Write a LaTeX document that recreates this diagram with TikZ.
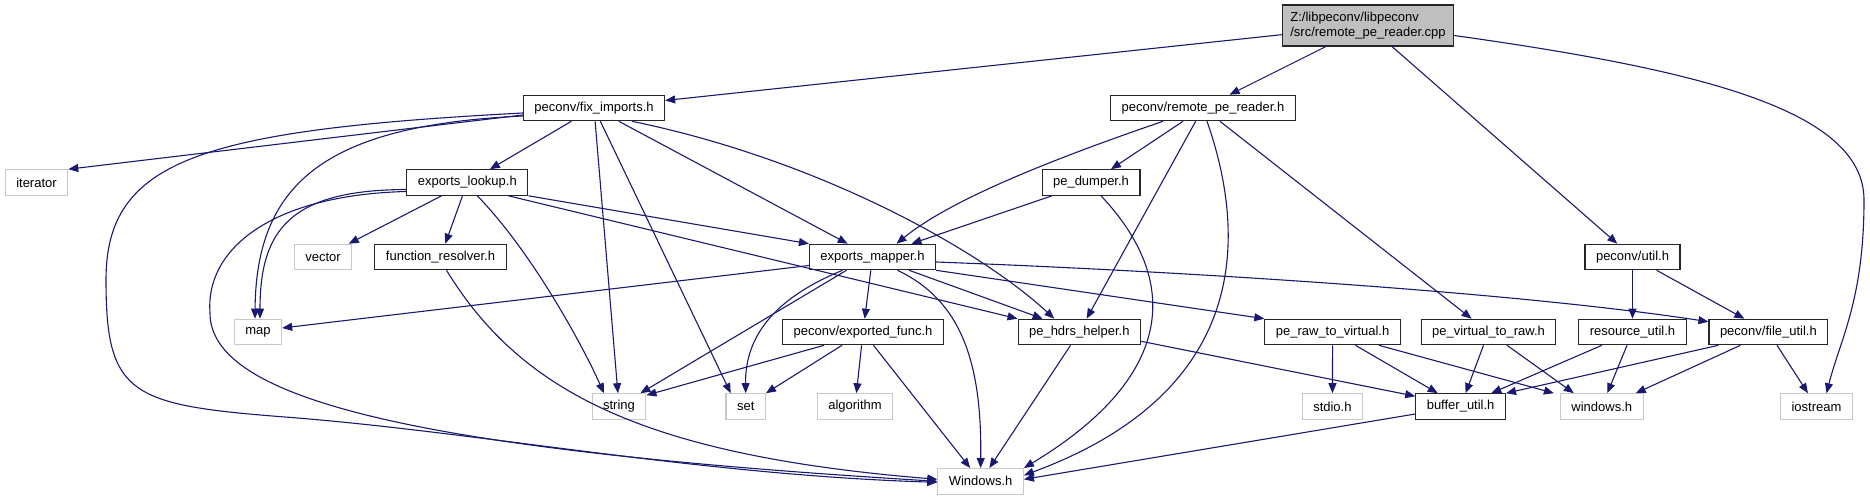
\documentclass[tikz,border=0pt]{standalone}
\usepackage{fontspec}
\setmainfont{Liberation Sans}
\usepackage{tikz}
\usetikzlibrary{arrows.meta}

\definecolor{edgeblue}{HTML}{191970}
\definecolor{rootgray}{HTML}{BFBFBF}
\definecolor{sysgray}{HTML}{C8C8C8}

\begin{document}
\begin{tikzpicture}[
    x=1pt, y=-1pt,
    box/.style={draw=black!85, line width=1.1pt, fill=white, minimum height=25.5pt,
      inner xsep=11pt, inner ysep=0pt, font=\fontsize{13}{15}\selectfont},
    sysbox/.style={box, draw=sysgray},
    rootbox/.style={box, fill=rootgray, align=left, minimum height=41pt, inner xsep=8pt},
    arr/.style={-{Triangle[length=10pt,width=8pt]}, draw=edgeblue, line width=1.1pt}
  ]
    \useasboundingbox (0,0) rectangle (1870,500);

    % the source file
    \node[rootbox] (main) at (1368,25.5) {Z:/libpeconv/libpeconv\\/src/remote\_pe\_reader.cpp};

    % row 1
    \node[box] (fiximp) at (594,108) {peconv/fix\_imports.h};
    \node[box] (remote) at (1203,108) {peconv/remote\_pe\_reader.h};

    % row 2
    \node[sysbox] (iterator) at (36.5,182.5) {iterator};
    \node[box] (explookup) at (467.3,182.5) {exports\_lookup.h};
    \node[box] (pedumper) at (1091,182.5) {pe\_dumper.h};

    % row 3
    \node[sysbox] (vector) at (323,257) {vector};
    \node[box] (funcres) at (440.5,257) {function\_resolver.h};
    \node[box] (expmapper) at (872.5,257) {exports\_mapper.h};
    \node[box] (util) at (1632.5,257) {peconv/util.h};

    % row 4
    \node[sysbox] (map) at (258,332) {map};
    \node[box] (expfunc) at (863,332) {peconv/exported\_func.h};
    \node[box] (pehdrs) at (1079.3,332) {pe\_hdrs\_helper.h};
    \node[box] (rawtovirt) at (1332.6,332) {pe\_raw\_to\_virtual.h};
    \node[box] (virttoraw) at (1488.5,332) {pe\_virtual\_to\_raw.h};
    \node[box] (resutil) at (1632.5,332) {resource\_util.h};
    \node[box] (fileutil) at (1768.4,332) {peconv/file\_util.h};

    % row 5
    \node[sysbox] (string) at (619,406.5) {string};
    \node[sysbox] (set) at (745.7,406.5) {set};
    \node[sysbox] (algorithm) at (855,406.5) {algorithm};
    \node[sysbox] (stdio) at (1332.4,406.5) {stdio.h};
    \node[box] (bufutil) at (1460.6,406.5) {buffer\_util.h};
    \node[sysbox] (winlow) at (1601.8,406.5) {windows.h};
    \node[sysbox] (iostream) at (1816.5,406.5) {iostream};

    % row 6
    \node[sysbox] (windows) at (980.6,481.3) {Windows.h};

    % remote_pe_reader.cpp
    \draw[arr] (main) -- (fiximp);
    \draw[arr] (main) -- (remote);
    \draw[arr] (main) -- (util);
    \draw[arr] ([yshift=-10pt]main.east) .. controls (1700,70) and (1864,110) .. (1864,200)
      .. controls (1864,300) and (1840,340) .. ([xshift=10pt]iostream.north);

    % fix_imports.h
    \draw[arr] ([yshift=-7pt]fiximp.west) -- (iterator.north east);
    \draw[arr] (fiximp) -- (explookup);
    \draw[arr] ([yshift=-8pt]fiximp.west) .. controls (330,125) and (256,180) .. ([xshift=-3pt]map.north);
    \draw[arr] ([yshift=-5pt]fiximp.west) .. controls (200,130) and (106,160) .. (106,280)
      .. controls (106,395) and (130,405) .. (285,417)
      .. controls (480,432) and (700,475) .. ([yshift=-1pt]windows.west);
    \draw[arr] (fiximp) -- (string);
    \draw[arr] (fiximp) -- ([xshift=-15pt]set.north);
    \draw[arr] (fiximp) -- (expmapper);
    \draw[arr] ([xshift=38pt]fiximp.south) .. controls (820,160) and (980,250) .. ([xshift=-25pt]pehdrs.north);

    % exports_lookup.h
    \draw[arr] (explookup) -- (vector);
    \draw[arr] (explookup) -- (funcres);
    \draw[arr] ([yshift=-7pt]explookup.west) .. controls (290,190) and (260,230) .. ([xshift=2pt]map.north);
    \draw[arr] ([yshift=-9pt]explookup.west) .. controls (270,195) and (205,250) .. (210,313)
      .. controls (210,400) and (420,450) .. (windows.west);
    \draw[arr] ([xshift=10pt]explookup.south) .. controls (530,250) and (580,340) .. ([xshift=-15pt]string.north);
    \draw[arr] (explookup.south east) -- (expmapper.north west);
    \draw[arr] ([xshift=-20pt]explookup.south east) -- (pehdrs.north west);

    % remote_pe_reader.h
    \draw[arr] ([xshift=-40pt]remote.south) .. controls (1050,160) and (950,200) .. ([xshift=24pt]expmapper.north);
    \draw[arr] (remote) -- (pedumper);
    \draw[arr] (remote) -- (pehdrs);
    \draw[arr] ([xshift=4pt]remote.south) .. controls (1245,230) and (1255,390) .. ([yshift=6pt]windows.east);
    \draw[arr] (remote) -- (virttoraw);

    % pe_dumper.h
    \draw[arr] (pedumper) -- (expmapper);
    \draw[arr] ([xshift=10pt]pedumper.south) .. controls (1185,285) and (1170,380) .. (windows.north east);

    % function_resolver.h
    \draw[arr] ([xshift=6pt]funcres.south) .. controls (520,390) and (640,455) .. ([yshift=2pt]windows.west);

    % exports_mapper.h
    \draw[arr] ([yshift=-8.5pt]expmapper.west) -- ([yshift=4pt]map.east);
    \draw[arr] ([xshift=-26pt]expmapper.south) -- ([xshift=-6pt]string.north east);
    \draw[arr] ([xshift=-30pt]expmapper.south) .. controls (770,300) and (745,340) .. (set.north);
    \draw[arr] (expmapper) -- (expfunc);
    \draw[arr] ([xshift=25pt]expmapper.south) .. controls (960,300) and (982,360) .. (windows.north);
    \draw[arr] (expmapper) -- (pehdrs);
    \draw[arr] (expmapper.south east) -- (rawtovirt.north west);
    \draw[arr] ([yshift=-5pt]expmapper.east) .. controls (1150,270) and (1500,290) .. ([yshift=-3pt]fileutil.north west);

    % exported_func.h
    \draw[arr] ([xshift=-39pt]expfunc.south) -- ([yshift=-2pt]string.north east);
    \draw[arr] ([xshift=-21pt]expfunc.south) -- (set.north east);
    \draw[arr] (expfunc) -- (algorithm);
    \draw[arr] (expfunc) -- (windows);

    % pe_hdrs_helper.h
    \draw[arr] (pehdrs) -- (windows);
    \draw[arr] ([yshift=4pt]pehdrs.south east) -- ([yshift=-3pt]bufutil.north west);

    % pe_raw_to_virtual.h
    \draw[arr] (rawtovirt) -- (stdio);
    \draw[arr] (rawtovirt) -- (bufutil);
    \draw[arr] ([xshift=-22pt]rawtovirt.south east) -- ([xshift=-6pt]winlow.north west);

    % pe_virtual_to_raw.h
    \draw[arr] (virttoraw) -- (bufutil);
    \draw[arr] (virttoraw) -- ([xshift=-28pt]winlow.north);

    % util.h
    \draw[arr] (util) -- (resutil);
    \draw[arr] (util) -- (fileutil);

    % resource_util.h
    \draw[arr] (resutil) -- (bufutil);
    \draw[arr] (resutil) -- (winlow);

    % file_util.h
    \draw[arr] ([xshift=-50pt]fileutil.south) -- (bufutil.north east);
    \draw[arr] ([xshift=-28pt]fileutil.south) -- ([xshift=-8pt]winlow.north east);
    \draw[arr] (fileutil) -- (iostream);

    % buffer_util.h
    \draw[arr] ([yshift=-7.5pt]bufutil.west) -- ([yshift=2pt]windows.east);
  \end{tikzpicture}
\end{document}
